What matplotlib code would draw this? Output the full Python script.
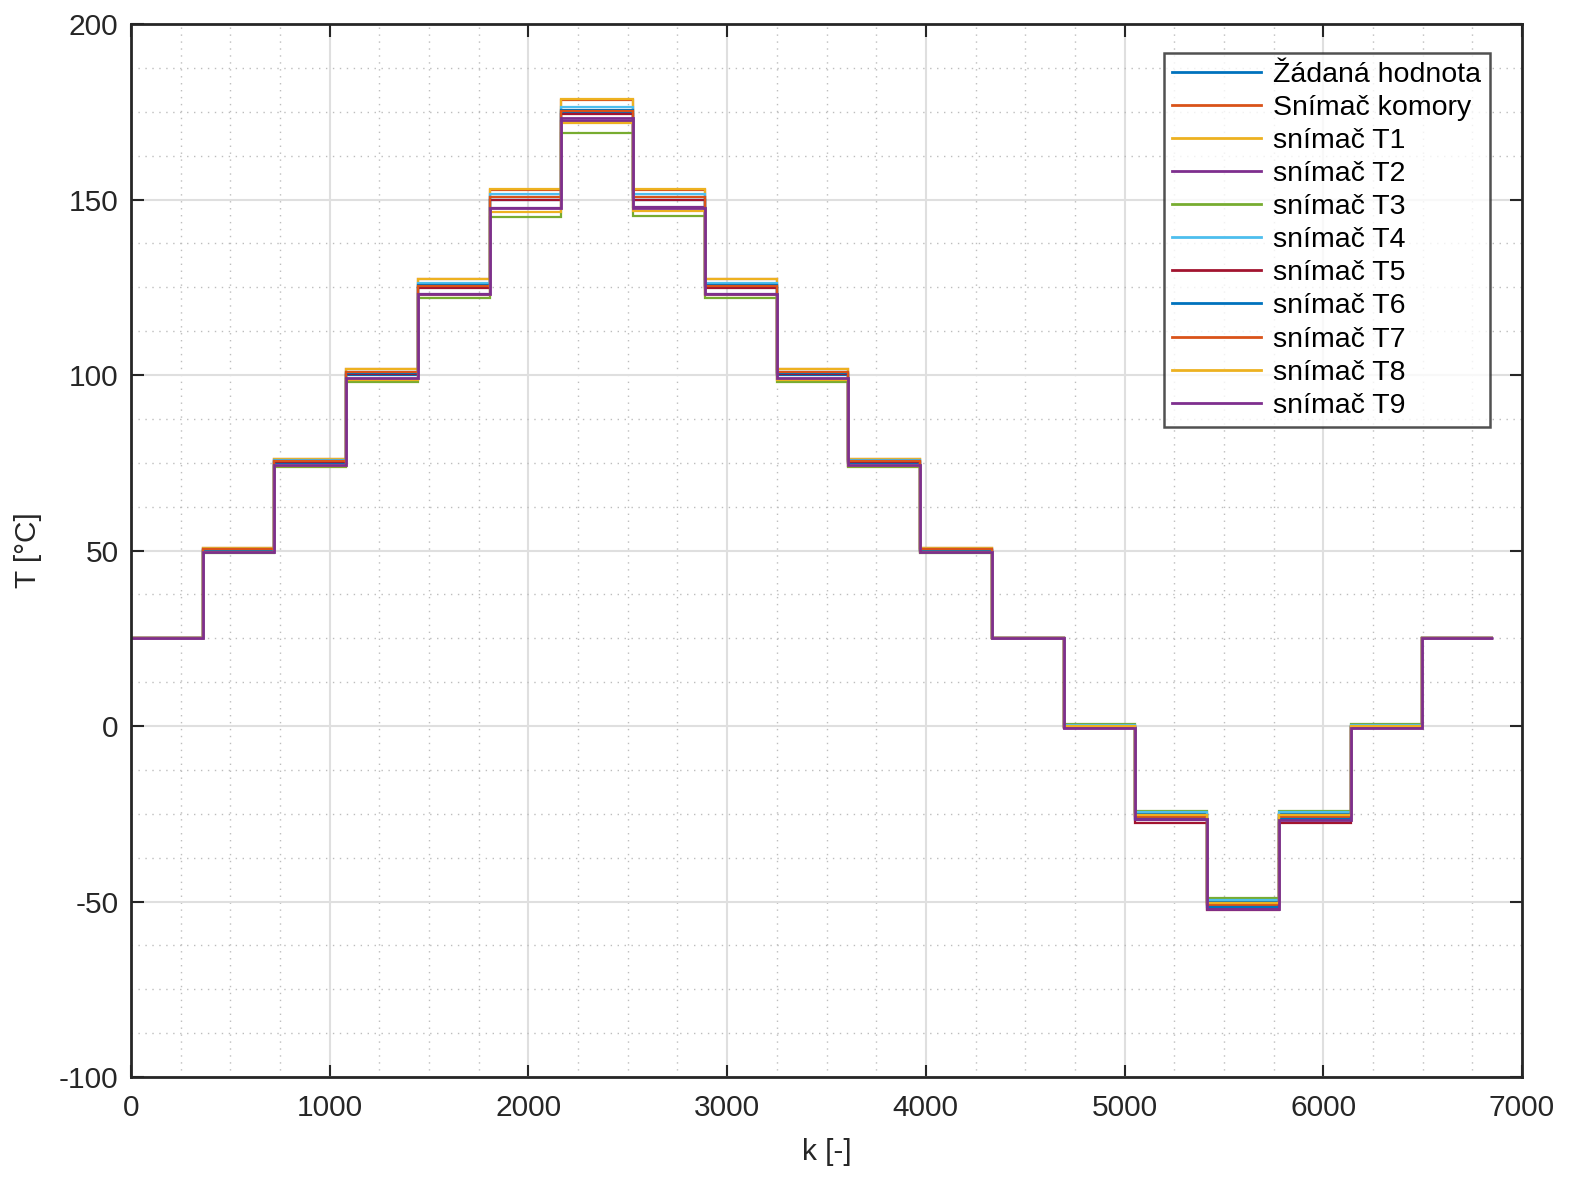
import numpy as np
import matplotlib
matplotlib.use('Agg')
import matplotlib.pyplot as plt
from matplotlib.ticker import MultipleLocator

plt.rcParams['font.family'] = ['Liberation Sans', 'DejaVu Sans']
plt.rcParams['axes.unicode_minus'] = False

# step edges [k] and setpoint per plateau
edges = [0, 362, 722, 1083, 1444, 1805, 2166, 2527, 2888, 3249, 3610,
         3971, 4332, 4693, 5054, 5415, 5776, 6137, 6498, 6855]
setpoint = [25, 50, 75, 100, 125, 150, 175, 150, 125, 100, 75, 50, 25,
            0, -25, -50, -25, 0, 25]

# deviation of each sensor from setpoint on each plateau
off_komory = [0, 0.6, 1.1, 1.6, 2.3, 2.8, 3.4, 2.8, 2.4, 1.7, 1.1, 0.6, 0.1, -0.4, -1.1, -1.0, -1.1, -0.4, 0]
off_t1 = [0, 0.7, 1.2, 1.8, 2.5, 3.1, 3.7, 3.0, 2.5, 1.8, 1.2, 0.6, 0.1, -0.3, -0.3, -0.4, -0.3, -0.3, 0]
off_t2 = [0, -0.4, -0.8, -1.0, -1.8, -2.3, -2.7, -2.2, -1.8, -1.1, -0.8, -0.4, 0, -0.5, -1.8, -2.2, -1.8, -0.5, 0]
off_t3 = [0, -0.7, -1.3, -2.1, -3.1, -4.9, -5.9, -4.6, -3.0, -2.0, -1.3, -0.6, 0, 0.7, 0.8, 1.1, 0.9, 0.7, 0]
off_t4 = [0, 0.4, 0.7, 0.9, 1.1, 1.6, 1.4, 1.5, 1.1, 0.9, 0.7, 0.4, 0, 0.3, 0.4, 0.4, 0.4, 0.3, 0]
off_t5 = [0, 0.1, 0.2, 0.2, -0.3, -0.2, -0.5, -0.2, -0.3, 0.2, 0.2, 0.1, 0, -0.6, -2.7, -2.4, -2.6, -0.6, 0]
off_t6 = [0, 0.2, 0.4, 0.5, 0.6, 0.8, 0.6, 0.8, 0.6, 0.5, 0.4, 0.2, 0, -0.4, -1.5, -1.6, -1.5, -0.4, 0]
off_t7 = [0, 0.3, 0.5, 0.8, 0.4, 0.6, 0.2, 0.6, 0.4, 0.8, 0.5, 0.3, 0, -0.2, -0.6, -0.8, -0.6, -0.2, 0]
off_t8 = [0, -0.5, -0.9, -1.3, -2.3, -3.6, -3.3, -3.4, -2.2, -1.3, -0.9, -0.5, 0, -0.1, -0.3, -0.5, -0.3, -0.1, 0]
off_t9 = [0, -0.3, -0.6, -0.9, -2.0, -2.5, -1.9, -2.4, -2.0, -0.9, -0.6, -0.3, 0, -0.6, -1.6, -2.2, -1.7, -0.6, 0]

labels = ['Žádaná hodnota', 'Snímač komory', 'snímač T1', 'snímač T2', 'snímač T3',
          'snímač T4', 'snímač T5', 'snímač T6', 'snímač T7', 'snímač T8', 'snímač T9']
offsets = [[0] * len(setpoint), off_komory, off_t1, off_t2, off_t3, off_t4,
           off_t5, off_t6, off_t7, off_t8, off_t9]
colors = ['#0072BD', '#D95319', '#EDB120', '#7E2F8E', '#77AC30', '#4DBEEE',
          '#A2142F', '#0072BD', '#D95319', '#EDB120', '#7E2F8E']

fig = plt.figure(figsize=(15.74, 11.79), dpi=100)
ax = fig.add_axes([0.0832, 0.0865, 0.8838, 0.8931])

sp = np.array(setpoint, dtype=float)
for i, (lab, off, c) in enumerate(zip(labels, offsets, colors)):
    lw = 2.0 if i == len(labels) - 1 else 1.6
    ax.stairs(sp + np.array(off), edges, baseline=None, color=c, lw=lw, label=lab)

ax.set_xlim(0, 7000)
ax.set_ylim(-100, 200)
ax.xaxis.set_major_locator(MultipleLocator(1000))
ax.xaxis.set_minor_locator(MultipleLocator(250))
ax.yaxis.set_major_locator(MultipleLocator(50))
ax.yaxis.set_minor_locator(MultipleLocator(12.5))

ax.grid(True, which='major', color='#dfdfdf', lw=1.5, zorder=0)
ax.grid(True, which='minor', color='#bdbdbd', lw=1.0, ls=(0, (1, 4)), zorder=0)
ax.set_axisbelow(True)

ax.tick_params(which='both', direction='in', top=True, right=True, colors='#262626',
               labelsize=21.5, width=1.5)
ax.tick_params(which='major', length=9)
ax.tick_params(which='minor', length=0)
ax.tick_params(axis='x', pad=12)
ax.tick_params(axis='y', pad=9)
for s in ax.spines.values():
    s.set_color('#262626')
    s.set_linewidth(2)

ax.set_xlabel('k [-]', fontsize=21.5, color='#262626', labelpad=12)
ax.set_ylabel('T [°C]', fontsize=21.5, color='#262626', labelpad=12)

leg = ax.legend(loc='upper right', bbox_to_anchor=(0.9466, 0.955),
                bbox_transform=fig.transFigure, fontsize=20.5, frameon=True,
                fancybox=False, handlelength=3.1, handletextpad=0.45,
                labelspacing=0.25, borderpad=0.3, borderaxespad=0)
leg.get_frame().set_edgecolor('#262626')
leg.get_frame().set_linewidth(1.8)
for h in leg.get_lines():
    h.set_linewidth(2)

fig.savefig('out.png', dpi=100, facecolor='white')
